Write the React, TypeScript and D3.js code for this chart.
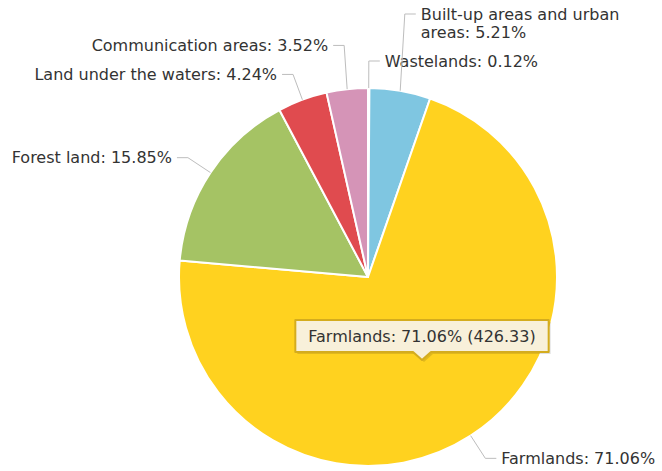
import React, { useMemo } from "react";
import * as d3 from "d3";

const categories = [
  "Wastelands",
  "Built-up areas and urban areas",
  "Farmlands",
  "Forest land",
  "Land under the waters",
  "Communication areas",
];
const values = [0.72, 31.26, 426.33, 95.1, 25.44, 21.12];
const colors = ["#7fc6e1", "#7fc6e1", "#ffd21f", "#a5c364", "#e04b4f", "#d594b7"];
const tooltipCategory = "Farmlands";

const W = 662;
const H = 471;
const FONT = "DejaVu Sans, Verdana, sans-serif";
const FS = 16;
const LH = 18;
const PAD = 4;
const GAP = 3;

let ctx: CanvasRenderingContext2D | null = null;
function measure(t: string) {
  if (!ctx) {
    ctx = document.createElement("canvas").getContext("2d");
  }
  if (!ctx) return t.length * 8.5;
  ctx.font = `${FS}px ${FONT}`;
  return ctx.measureText(t).width;
}

function wrap(text: string, maxW: number) {
  const words = text.split(" ");
  const lines: string[] = [];
  let cur = "";
  for (const w of words) {
    const test = cur ? cur + " " + w : w;
    if (cur && measure(test) > maxW) {
      lines.push(cur);
      cur = w;
    } else cur = test;
  }
  if (cur) lines.push(cur);
  return lines;
}

export default function App() {
  if (typeof document !== "undefined") document.body.style.margin = "0";
  const cx = 368;
  const cy = 277;
  const r = 189;

  const total = d3.sum(values);
  const pct = (v: number) => ((v / total) * 100).toFixed(2) + "%";

  const data = categories.map((c, i) => ({ c, v: values[i], color: colors[i] }));
  const arcs = d3
    .pie<any>()
    .sort(null)
    .value((d) => d.v)
    .startAngle(0)
    .endAngle(2 * Math.PI)(data);
  const arcGen = d3.arc<any>().innerRadius(0).outerRadius(r);

  const labels = useMemo(() => {
    const placed: any[] = [];
    arcs.forEach((a) => {
      const mid = (a.startAngle + a.endAngle) / 2;
      const sx = Math.sin(mid);
      const sy = -Math.cos(mid);
      const right = sx >= 0;
      const p0 = [cx + r * sx, cy + r * sy];
      const rb = r + 27;
      const bx = cx + rb * sx;
      let by = cy + rb * sy;
      const tx = right ? bx + 16 : bx - 16;
      const text = `${a.data.c}: ${pct(a.data.v)}`;
      const maxW = right ? W - tx - 1 : tx - 1;
      const lines = wrap(text, maxW);
      const h = lines.length * LH + 2 * PAD;
      let top = by - LH / 2 - PAD;
      let moved = true;
      let guard = 0;
      while (moved && guard < 20) {
        moved = false;
        guard++;
        for (const o of placed) {
          if (o.right !== right) continue;
          if (top < o.top + o.h + GAP && top + h + GAP > o.top) {
            if (by < cy) top = o.top - GAP - h;
            else top = o.top + o.h + GAP;
            moved = true;
          }
        }
      }
      by = top + PAD + LH / 2;
      placed.push({ right, top, h, p0, bx, by, tx, lines, color: a.data.color });
    });
    return placed;
  }, []);

  const tipArc = arcs.find((a) => a.data.c === tooltipCategory)!;
  const tipText = `${tipArc.data.c}: ${pct(tipArc.data.v)} (${tipArc.data.v.toFixed(2)})`;
  const tipW = measure(tipText) + 26;
  const tipH = 32;
  const tipX = cx + 54; // arrow tip
  const tipY = cy + 83;
  const bl = tipX - tipW / 2;
  const bt = tipY - 8 - tipH;
  const bb = bt + tipH;
  const tipPath = `M${bl},${bt} H${bl + tipW} V${bb} H${tipX + 9} L${tipX},${tipY} L${tipX - 9},${bb} H${bl} Z`;

  return (
    <svg width={W} height={H} style={{ display: "block", background: "#fff" }}>
      <g>
        {arcs.map((a, i) => (
          <path
            key={i}
            d={arcGen(a) as string}
            transform={`translate(${cx},${cy})`}
            fill={a.data.color}
            stroke="#fff"
            strokeWidth={2}
            strokeLinejoin="round"
          />
        ))}
      </g>
      <g>
        {labels.map((l, i) => (
          <g key={i}>
            <polyline
              points={`${l.p0[0]},${l.p0[1]} ${l.bx},${l.by} ${l.right ? l.bx + 11 : l.bx - 11},${l.by}`}
              fill="none"
              stroke="#bdbdbd"
              strokeWidth={1}
            />
            <text
              fontFamily={FONT}
              fontSize={FS}
              fill="#333"
              textAnchor={l.right ? "start" : "end"}
            >
              {l.lines.map((ln: string, j: number) => (
                <tspan key={j} x={l.tx} y={l.by + j * LH} dy="0.36em">
                  {ln}
                </tspan>
              ))}
            </text>
          </g>
        ))}
      </g>
      <g>
        <path d={tipPath} transform="translate(2,2)" fill="#000" opacity={0.12} />
        <path d={tipPath} fill="#f8f0da" stroke="#d4ac1e" strokeWidth={2} strokeLinejoin="round" />
        <text x={bl + 13} y={bt + tipH / 2} dy="0.36em" fontFamily={FONT} fontSize={FS} fill="#333">
          {tipText}
        </text>
      </g>
    </svg>
  );
}
